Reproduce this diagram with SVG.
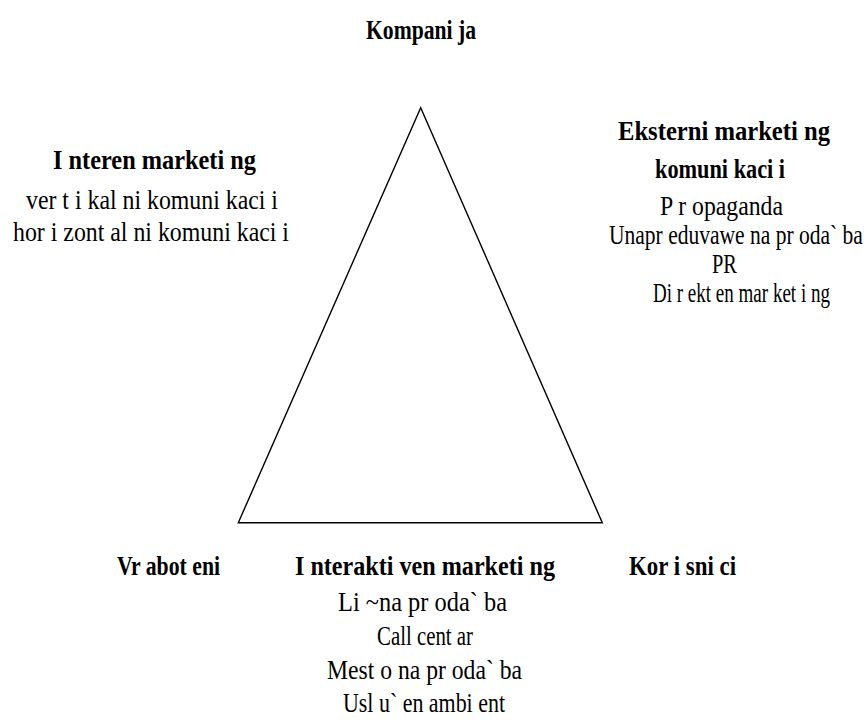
<svg xmlns="http://www.w3.org/2000/svg" width="868" height="721" viewBox="0 0 868 721">
  <style>
    text { font-family: "Liberation Serif", "Times New Roman", serif; font-size: 27px; fill: #000; }
    .h { font-weight: bold; }
    .r { text-anchor: end; }
    .edge { fill: none; stroke: #000; stroke-width: 1.4; stroke-linejoin: miter; }
  </style>
  <rect width="868" height="721" fill="#fff"/>

  <!-- triangle connecting the three parties -->
  <g id="connectors">
    <path class="edge" d="M420.7,107.7 L602.3,522.7 L238.3,522.7 Z"/>
  </g>

  <g id="kompanija">
    <text class="h" x="366" y="39" textLength="110" lengthAdjust="spacingAndGlyphs">Kompani ja</text>
  </g>

  <g id="interen-marketing">
    <text class="h" x="53" y="169" textLength="203" lengthAdjust="spacingAndGlyphs">I nteren marketi ng</text>
    <text x="26" y="209" textLength="252" lengthAdjust="spacingAndGlyphs">ver t i kal ni komuni kaci i</text>
    <text x="13" y="241" textLength="276" lengthAdjust="spacingAndGlyphs">hor i zont al ni komuni kaci i</text>
  </g>

  <!-- right-hand block; the two long lines are narrowed with a horizontal scale -->
  <g id="eksterni-marketing">
    <text class="h r" x="830" y="140" textLength="212" lengthAdjust="spacingAndGlyphs">Eksterni marketi ng</text>
    <text class="h r" x="785" y="178" textLength="130" lengthAdjust="spacingAndGlyphs">komuni kaci i</text>
    <text class="r" x="783" y="215" textLength="123" lengthAdjust="spacingAndGlyphs">P r opaganda</text>
    <text transform="translate(609,244) scale(0.797,1)">Unapr eduvawe na pr oda` ba</text>
    <text class="r" x="737" y="273" textLength="25" lengthAdjust="spacingAndGlyphs">PR</text>
    <text transform="translate(653,302) scale(0.705,1)">Di r ekt en mar ket i ng</text>
  </g>

  <g id="vraboteni">
    <text class="h" x="117" y="575" textLength="103" lengthAdjust="spacingAndGlyphs">Vr abot eni</text>
  </g>

  <g id="interaktiven-marketing">
    <text class="h" x="295" y="575" textLength="260" lengthAdjust="spacingAndGlyphs">I nterakti ven marketi ng</text>
    <text x="338" y="611" textLength="169" lengthAdjust="spacingAndGlyphs">Li ~na pr oda` ba</text>
    <text x="377" y="645" textLength="96" lengthAdjust="spacingAndGlyphs">Call cent ar</text>
    <text x="327" y="679" textLength="195" lengthAdjust="spacingAndGlyphs">Mest o na pr oda` ba</text>
    <text x="343" y="712" textLength="162" lengthAdjust="spacingAndGlyphs">Usl u` en ambi ent</text>
  </g>

  <g id="korisnici">
    <text class="h" x="629" y="575" textLength="107" lengthAdjust="spacingAndGlyphs">Kor i sni ci</text>
  </g>
</svg>
